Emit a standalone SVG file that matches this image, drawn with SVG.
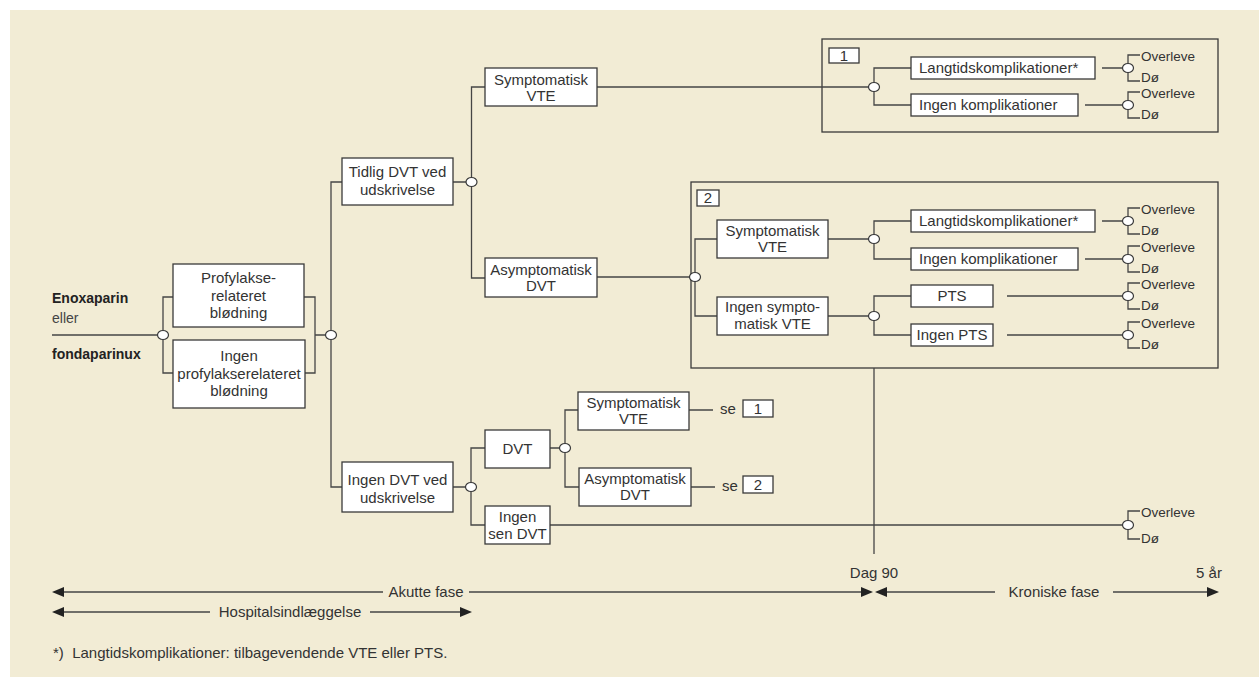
<svg xmlns="http://www.w3.org/2000/svg" width="1259" height="677" viewBox="0 0 1259 677">
<style>
.bg{fill:#F2ECD5}
.frame{fill:none;stroke:#3a3a3a;stroke-width:1.3}
.box{fill:#fff;stroke:#3a3a3a;stroke-width:1.3}
.ln{fill:none;stroke:#454545;stroke-width:1.3}
.j{fill:#fff;stroke:#3a3a3a;stroke-width:1.2}
text{font-family:"Liberation Sans",Arial,sans-serif;fill:#333}
.t{font-size:15px;text-anchor:middle}
.tl{font-size:15px;text-anchor:start}
.o{font-size:13.5px;text-anchor:start}
.b{font-size:14px;font-weight:bold;fill:#222}
.ah{fill:#222}
</style>
<rect class="bg" x="10" y="10" width="1249" height="667"/>

<g id="frame1"><rect class="frame" x="822" y="39" width="396" height="93"/>
<rect class="box" x="829" y="48" width="30" height="15"/><text class="t" x="844" y="60.5">1</text></g>
<g id="frame2"><rect class="frame" x="691" y="182" width="527" height="186"/>
<rect class="box" x="697" y="190" width="22" height="16"/><text class="t" x="708" y="203">2</text></g>

<g id="connectors">
<path class="ln" d="M52,335H163M173,297H163V373H173M304,297H315V373H305M315,335H331"/>
<path class="ln" d="M342,182H331V487H342"/>
<path class="ln" d="M453,182H471.5M485,87H471.5V278H485"/>
<path class="ln" d="M597,87H874M597,277H695"/>
<path class="ln" d="M911,68H874V105H911M1102,68H1128M1085,105H1128"/>
<path class="ln" d="M1140,55H1128V81H1140M1140,92H1128V118H1140"/>
<path class="ln" d="M717,239H695V316H717"/>
<path class="ln" d="M828,239H874M911,221H874V259H911M828,316H874M911,296H874V335H911"/>
<path class="ln" d="M1102,221H1128M1085,259H1128M1007,296H1128M1007,335H1128"/>
<path class="ln" d="M1140,208H1128V234H1140M1140,246H1128V272H1140M1140,283H1128V309H1140M1140,322H1128V348H1140"/>
<path class="ln" d="M874,368V554"/>
<path class="ln" d="M453,487H471M485,448H471V525H485M550,448H565M578,410H565V487H579"/>
<path class="ln" d="M689,410H713M691,487H715"/>
<path class="ln" d="M550,525H1128M1140,511H1128V539H1140"/>
<ellipse class="j" cx="163" cy="335" rx="5.5" ry="4.5"/>
<ellipse class="j" cx="331" cy="335" rx="5.5" ry="4.5"/>
<ellipse class="j" cx="471.5" cy="182" rx="5.5" ry="4.5"/>
<ellipse class="j" cx="874" cy="87" rx="5.5" ry="4.5"/>
<ellipse class="j" cx="1128" cy="68" rx="5.5" ry="4.5"/>
<ellipse class="j" cx="1128" cy="105" rx="5.5" ry="4.5"/>
<ellipse class="j" cx="695" cy="277" rx="5.5" ry="4.5"/>
<ellipse class="j" cx="874" cy="239" rx="5.5" ry="4.5"/>
<ellipse class="j" cx="874" cy="316" rx="5.5" ry="4.5"/>
<ellipse class="j" cx="1128" cy="221" rx="5.5" ry="4.5"/>
<ellipse class="j" cx="1128" cy="259" rx="5.5" ry="4.5"/>
<ellipse class="j" cx="1128" cy="296" rx="5.5" ry="4.5"/>
<ellipse class="j" cx="1128" cy="335" rx="5.5" ry="4.5"/>
<ellipse class="j" cx="471" cy="487" rx="5.5" ry="4.5"/>
<ellipse class="j" cx="565" cy="448" rx="5.5" ry="4.5"/>
<ellipse class="j" cx="1128" cy="525" rx="5.5" ry="4.5"/>
</g>

<g id="start"><text class="b" x="52" y="303">Enoxaparin</text><text x="52" y="323" style="font-size:14px;fill:#444">eller</text><text class="b" x="52" y="359">fondaparinux</text></g>

<g id="n-profylakse"><rect class="box" x="173" y="264" width="131" height="63"/>
<text class="t" x="238.5" y="283">Profylakse-</text><text class="t" x="238.5" y="300.5">relateret</text><text class="t" x="238.5" y="318">blødning</text></g>
<g id="n-ingenprofylakse"><rect class="box" x="173" y="340" width="132" height="68"/>
<text class="t" x="239" y="361">Ingen</text><text class="t" x="239" y="378.5">profylakserelateret</text><text class="t" x="239" y="396">blødning</text></g>

<g id="n-tidlig"><rect class="box" x="342" y="158" width="111" height="47"/>
<text class="t" x="397.5" y="177">Tidlig DVT ved</text><text class="t" x="397.5" y="195">udskrivelse</text></g>
<g id="n-symvte1"><rect class="box" x="485" y="68" width="112" height="38"/>
<text class="t" x="541" y="85">Symptomatisk</text><text class="t" x="541" y="101">VTE</text></g>
<g id="n-asymdvt1"><rect class="box" x="485" y="258" width="112" height="39"/>
<text class="t" x="541" y="275">Asymptomatisk</text><text class="t" x="541" y="290.5">DVT</text></g>

<g id="n-b1-lang"><rect class="box" x="911" y="57" width="184" height="22"/><text class="tl" x="919" y="73">Langtidskomplikationer*</text></g>
<g id="n-b1-ingen"><rect class="box" x="911" y="94" width="167" height="22"/><text class="tl" x="919" y="110">Ingen komplikationer</text></g>
<g id="o-b1"><text class="o" x="1141" y="61">Overleve</text><text class="o" x="1141" y="82">Dø</text>
<text class="o" x="1141" y="98">Overleve</text><text class="o" x="1141" y="119">Dø</text></g>

<g id="n-b2-symvte"><rect class="box" x="717" y="220" width="111" height="38"/>
<text class="t" x="772.5" y="236">Symptomatisk</text><text class="t" x="772.5" y="252">VTE</text></g>
<g id="n-b2-ingensym"><rect class="box" x="717" y="297" width="111" height="38"/>
<text class="t" x="772.5" y="312">Ingen sympto-</text><text class="t" x="772.5" y="329">matisk VTE</text></g>
<g id="n-b2-lang"><rect class="box" x="911" y="210" width="184" height="22"/><text class="tl" x="919" y="226">Langtidskomplikationer*</text></g>
<g id="n-b2-ingen"><rect class="box" x="911" y="248" width="167" height="22"/><text class="tl" x="919" y="264">Ingen komplikationer</text></g>
<g id="n-b2-pts"><rect class="box" x="911" y="285" width="82" height="22"/><text class="t" x="952" y="301">PTS</text></g>
<g id="n-b2-ingenpts"><rect class="box" x="911" y="324" width="82" height="22"/><text class="t" x="952" y="340">Ingen PTS</text></g>
<g id="o-b2"><text class="o" x="1141" y="214">Overleve</text><text class="o" x="1141" y="235">Dø</text>
<text class="o" x="1141" y="252">Overleve</text><text class="o" x="1141" y="273">Dø</text>
<text class="o" x="1141" y="289">Overleve</text><text class="o" x="1141" y="310">Dø</text>
<text class="o" x="1141" y="328">Overleve</text><text class="o" x="1141" y="349">Dø</text></g>

<g id="n-ingendvt"><rect class="box" x="342" y="462" width="111" height="50"/>
<text class="t" x="397.5" y="485">Ingen DVT ved</text><text class="t" x="397.5" y="503">udskrivelse</text></g>
<g id="n-dvt"><rect class="box" x="485" y="430" width="65" height="38"/><text class="t" x="517.5" y="453.5">DVT</text></g>
<g id="n-ingensen"><rect class="box" x="485" y="506" width="65" height="38"/>
<text class="t" x="517.5" y="522">Ingen</text><text class="t" x="517.5" y="538.5">sen DVT</text></g>
<g id="n-symvte3"><rect class="box" x="578" y="392" width="111" height="38"/>
<text class="t" x="633.5" y="408">Symptomatisk</text><text class="t" x="633.5" y="423.5">VTE</text></g>
<g id="n-asymdvt3"><rect class="box" x="579" y="468" width="112" height="38"/>
<text class="t" x="635" y="484">Asymptomatisk</text><text class="t" x="635" y="499.5">DVT</text></g>
<g id="ref1"><text class="tl" x="720" y="414">se</text><rect class="box" x="743" y="400" width="30" height="17"/><text class="t" x="758" y="413.5">1</text></g>
<g id="ref2"><text class="tl" x="722" y="491">se</text><rect class="box" x="743" y="476" width="30" height="17"/><text class="t" x="758" y="489.5">2</text></g>
<g id="o-bottom"><text class="o" x="1141" y="517">Overleve</text><text class="o" x="1141" y="543">Dø</text></g>

<g id="timeline">
<path class="ln" d="M60,592H383M469,592H866M880,592H995M1113,592H1212M60,612H210M370,612H466"/>
<polygon class="ah" points="52,592 64,587 64,597"/>
<polygon class="ah" points="873,592 861,587 861,597"/>
<polygon class="ah" points="875,592 887,587 887,597"/>
<polygon class="ah" points="1219,592 1207,587 1207,597"/>
<polygon class="ah" points="52,612 64,607 64,617"/>
<polygon class="ah" points="472,612 460,607 460,617"/>
<text class="t" x="426" y="597">Akutte fase</text>
<text class="t" x="290" y="617">Hospitalsindlæggelse</text>
<text class="t" x="874" y="578">Dag 90</text>
<text class="t" x="1054" y="597">Kroniske fase</text>
<text class="t" x="1209" y="578">5 år</text>
</g>
<text class="tl" x="53" y="658">*)&#160; Langtidskomplikationer: tilbagevendende VTE eller PTS.</text>
</svg>
